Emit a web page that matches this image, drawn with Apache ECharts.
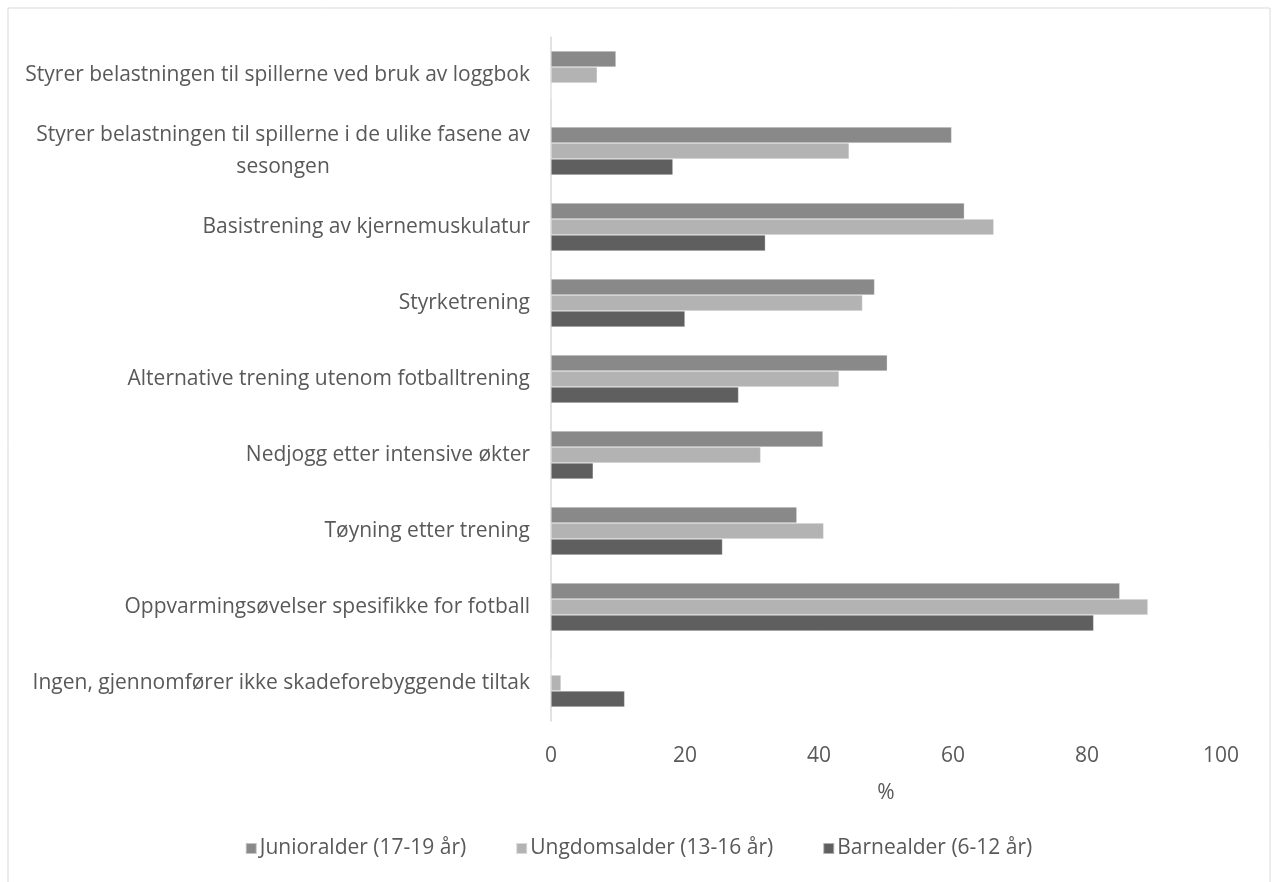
<!DOCTYPE html>
<html>
<head>
<meta charset="utf-8">
<script src="https://cdn.jsdelivr.net/npm/echarts@6/dist/echarts.min.js"></script>
<style>
  html, body { margin: 0; padding: 0; background: #fff; }
  #chart { width: 1277px; height: 882px; }
</style>
</head>
<body>
<div id="chart"></div>
<script>
// Injury-prevention measures by age group (% of coaches)
const categories = [
  'Styrer belastningen til spillerne ved bruk av loggbok',
  'Styrer belastningen til spillerne i de ulike fasene av\nsesongen',
  'Basistrening av kjernemuskulatur',
  'Styrketrening',
  'Alternative trening utenom fotballtrening',
  'Nedjogg etter intensive økter',
  'Tøyning etter trening',
  'Oppvarmingsøvelser spesifikke for fotball',
  'Ingen, gjennomfører ikke skadeforebyggende tiltak'
];
const seriesNames = ['Junioralder (17-19 år)', 'Ungdomsalder (13-16 år)', 'Barnealder (6-12 år)'];
const junior  = [9.7, 59.8, 61.7, 48.3, 50.2, 40.6, 36.7, 84.9, 0];
const ungdom  = [6.9, 44.5, 66.1, 46.5, 43.0, 31.3, 40.7, 89.1, 1.5];
const barne   = [0, 18.2, 32.0, 20.0, 28.0, 6.3, 25.6, 81.0, 11.0];
const xTicks = [0, 20, 40, 60, 80, 100];

const FONT = '"Open Sans"';
const TEXT = '#595959';
const FS = 21;
const colors = ['#898989', '#b3b3b3', '#5f5f5f'];

const chart = echarts.init(document.getElementById('chart'), null, { renderer: 'canvas' });

function barSeries(name, data, color) {
  return {
    name: name,
    type: 'bar',
    data: data,
    barGap: '0%',
    barCategoryGap: '37%',
    itemStyle: { color: color, borderColor: 'rgba(255,255,255,0.5)', borderWidth: 0.6 },
    emphasis: { disabled: true }
  };
}

chart.setOption({
  animation: false,
  backgroundColor: '#fff',
  textStyle: { fontFamily: FONT, color: TEXT },
  graphic: [{
    type: 'rect',
    shape: { x: 8, y: 8, width: 1262, height: 900 },
    style: { fill: 'none', stroke: '#d9d9d9', lineWidth: 1 },
    silent: true
  }],
  grid: { left: 551, right: 56, top: 37, bottom: 161, containLabel: false },
  legend: {
    top: 833,
    left: 'center',
    itemWidth: 11,
    itemHeight: 11,
    itemGap: 49,
    icon: 'rect',
    textStyle: { fontFamily: FONT, fontSize: FS, color: TEXT, padding: [0, 0, 0, -2] },
    data: seriesNames
  },
  xAxis: {
    type: 'value',
    min: xTicks[0],
    max: xTicks[xTicks.length - 1],
    interval: 20,
    name: '%',
    nameLocation: 'middle',
    nameGap: 62,
    nameTextStyle: { fontFamily: FONT, fontSize: FS, color: TEXT },
    axisLine: { show: false },
    axisTick: { show: false },
    splitLine: { show: false },
    axisLabel: { fontFamily: FONT, fontSize: FS, color: TEXT, margin: 25 }
  },
  yAxis: {
    type: 'category',
    inverse: true,
    data: categories,
    axisLine: { show: true, lineStyle: { color: '#d9d9d9', width: 1.5 } },
    axisTick: { show: false },
    axisLabel: {
      fontFamily: FONT,
      fontSize: FS,
      color: TEXT,
      margin: 21,
      lineHeight: 32,
      formatter: function (v) {
        return v.split('\n').map(function (line) { return '{c|' + line + '}'; }).join('\n');
      },
      rich: {
        c: { fontFamily: FONT, fontSize: FS, color: TEXT, align: 'center', lineHeight: 32 }
      }
    }
  },
  series: [
    barSeries(seriesNames[0], junior, colors[0]),
    barSeries(seriesNames[1], ungdom, colors[1]),
    barSeries(seriesNames[2], barne, colors[2])
  ]
});
</script>
</body>
</html>
